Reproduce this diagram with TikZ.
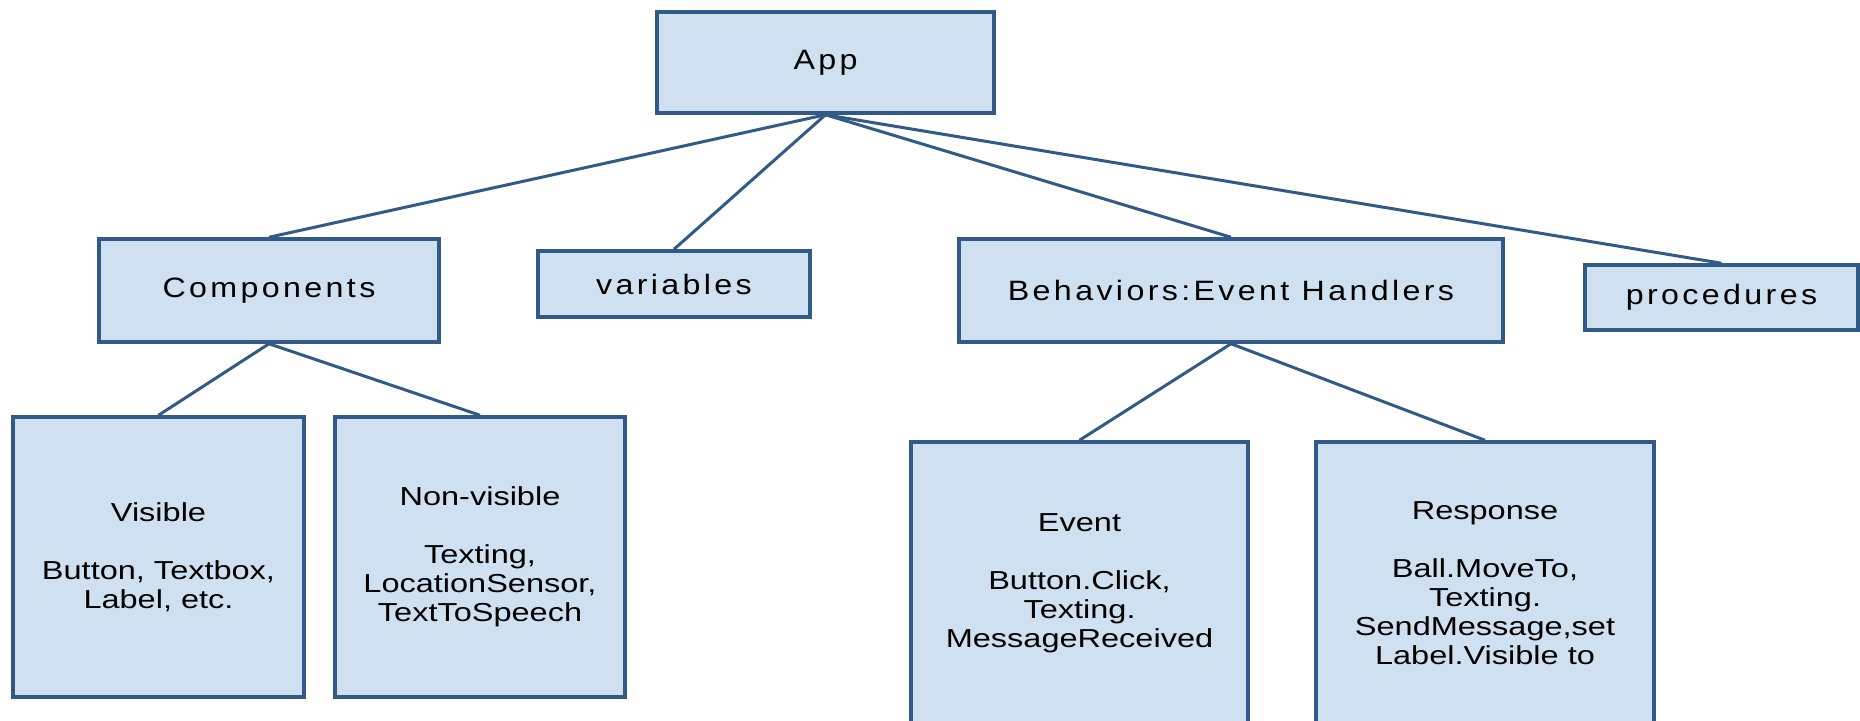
\documentclass[tikz,border=0pt]{standalone}
\usepackage{fontspec}
\setmainfont{Liberation Sans}
\newfontfamily\headfont[LetterSpace=12,FakeStretch=1.15]{Liberation Sans}
\newfontfamily\bodyfont[FakeStretch=1.25]{Liberation Sans}
\definecolor{boxfill}{RGB}{207,224,241}
\definecolor{boxline}{RGB}{50,90,134}
\tikzset{
  box/.style={draw=boxline, fill=boxfill, line width=3.5pt, rectangle,
    inner sep=0pt, align=center},
  headbox/.style={box, font=\headfont\fontsize{28}{32}\selectfont},
  leafbox/.style={box, font=\bodyfont\fontsize{26}{29}\selectfont},
  link/.style={draw=boxline, line width=3pt}
}
\begin{document}
\begin{tikzpicture}[x=1pt,y=-1pt]
\useasboundingbox (0,0) rectangle (1860,720);
% top level
\node[headbox, minimum width=337pt, minimum height=101pt] (app) at (825.5,62.5) {App};
% second level
\node[headbox, minimum width=340pt, minimum height=103pt] (comp) at (269,290.5) {Components};
\node[headbox, minimum width=272pt, minimum height=66pt] (vars) at (674,284) {variables};
\node[headbox, minimum width=544pt, minimum height=103pt] (behav) at (1231,290.5) {Behaviors:Event Handlers};
\node[headbox, minimum width=273pt, minimum height=65pt] (proc) at (1721.5,297.5) {procedures};
% leaves
\node[leafbox, minimum width=291pt, minimum height=280pt] (vis) at (158.5,557)
  {Visible\\[29pt]Button, Textbox,\\Label, etc.};
\node[leafbox, minimum width=290pt, minimum height=280pt] (nonvis) at (480,557)
  {Non-visible\\[29pt]Texting,\\LocationSensor,\\TextToSpeech};
\node[leafbox, minimum width=337pt, minimum height=282pt] (event) at (1079.5,583)
  {Event\\[29pt]Button.Click,\\Texting.\\MessageReceived};
\node[leafbox, minimum width=338pt, minimum height=282pt] (resp) at (1485,583)
  {Response\\[29pt]Ball.MoveTo,\\Texting.\\SendMessage,set\\Label.Visible to};
% connectors
\foreach \child in {comp,vars,behav,proc}
  \draw[link] (app.south) -- (\child.north);
\draw[link] (comp.south) -- (vis.north);
\draw[link] (comp.south) -- (nonvis.north);
\draw[link] (behav.south) -- (event.north);
\draw[link] (behav.south) -- (resp.north);
\end{tikzpicture}
\end{document}
